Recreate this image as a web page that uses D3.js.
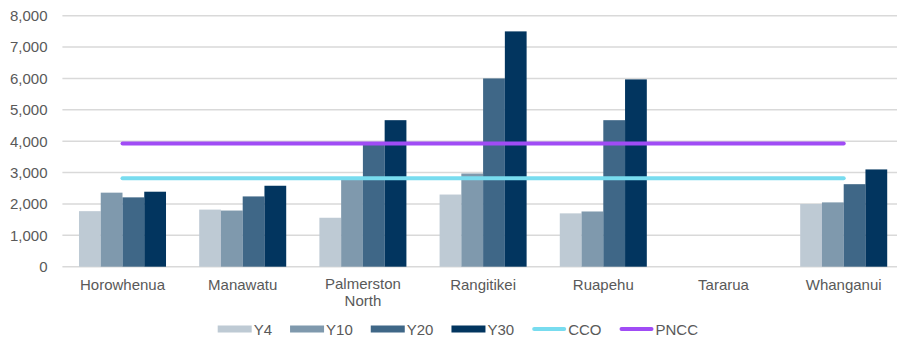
<!DOCTYPE html>
<html>
<head>
<meta charset="utf-8">
<script src="https://cdn.jsdelivr.net/npm/d3@7"></script>
<style>
  html, body { margin: 0; padding: 0; background: #fff; }
  svg { display: block; font-family: "Liberation Sans", Arial, sans-serif; }
</style>
</head>
<body>
<svg id="chart" width="897" height="345"></svg>
<script>
// Districts along the x axis
const categories = ["Horowhenua", "Manawatu", "Palmerston North", "Rangitikei", "Ruapehu", "Tararua", "Whanganui"];

// Bar series (null = no value)
const seriesNames = ["Y4", "Y10", "Y20", "Y30"];
const y4  = [1770, 1820, 1560, 2300, 1700, null, 2000];
const y10 = [2360, 1790, 2780, 2970, 1760, null, 2050];
const y20 = [2210, 2240, 3900, 6000, 4670, null, 2630];
const y30 = [2390, 2580, 4670, 7500, 5970, null, 3100];

// Flat reference lines
const cco  = [2820, 2820, 2820, 2820, 2820, 2820, 2820];
const pncc = [3930, 3930, 3930, 3930, 3930, 3930, 3930];

const yTicks = [0, 1000, 2000, 3000, 4000, 5000, 6000, 7000, 8000];

const barColors = ["#BECAD4", "#7F99AD", "#3F6787", "#02355F"];
const ccoColor = "#78DCEF";
const pnccColor = "#A04CF5";
const textColor = "#595959";
const fontSize = "15px";

const barData = [y4, y10, y20, y30];

const svg = d3.select("#chart");
const W = 897, H = 345;
const plotLeft = 62.4, plotRight = 903.8, plotTop = 15.7, plotBottom = 266.7;

const x0 = d3.scaleBand().domain(categories).range([plotLeft, plotRight])
  .paddingInner(0.276).paddingOuter(0.138);
const x1 = d3.scaleBand().domain(seriesNames).range([0, x0.bandwidth()]);
const y = d3.scaleLinear().domain([0, 8000]).range([plotBottom, plotTop]);

// Gridlines
svg.append("g").selectAll("line").data(yTicks).join("line")
  .attr("x1", plotLeft).attr("x2", W)
  .attr("y1", d => y(d)).attr("y2", d => y(d))
  .attr("stroke", "#D9D9D9").attr("stroke-width", 1.5);

// Y axis labels
const yAxis = d3.axisLeft(y).tickValues(yTicks).tickFormat(d3.format(",")).tickSize(0).tickPadding(0);
const gy = svg.append("g").attr("transform", `translate(${47.5},0)`).call(yAxis);
gy.select(".domain").remove();
gy.selectAll("text").attr("fill", textColor).style("font-size", fontSize)
  .attr("font-family", "'Liberation Sans', Arial, sans-serif");

// Bars
const groups = svg.append("g").selectAll("g").data(categories).join("g")
  .attr("transform", d => `translate(${x0(d)},0)`);
groups.selectAll("rect")
  .data((c, i) => seriesNames.map((s, k) => ({ s, k, v: barData[k][i] })).filter(d => d.v != null))
  .join("rect")
  .attr("x", d => x1(d.s))
  .attr("width", x1.bandwidth())
  .attr("y", d => y(d.v))
  .attr("height", d => y(0) - y(d.v))
  .attr("fill", d => barColors[d.k]);

// Reference lines
const cx = c => x0(c) + x0.bandwidth() / 2;
const lineGen = d3.line().x((d, i) => cx(categories[i])).y(d => y(d));
[[cco, ccoColor], [pncc, pnccColor]].forEach(([vals, col]) => {
  svg.append("path").datum(vals).attr("d", lineGen)
    .attr("fill", "none").attr("stroke", col).attr("stroke-width", 4)
    .attr("stroke-linecap", "round");
});

// Category labels (wrap two-word names)
const xl = svg.append("g");
categories.forEach(c => {
  const words = c.split(" ");
  const t = xl.append("text").attr("x", cx(c)).attr("y", words.length > 1 ? 288.5 : 290)
    .attr("text-anchor", "middle").attr("fill", textColor).style("font-size", fontSize);
  words.forEach((w, i) => {
    t.append("tspan").attr("x", cx(c)).attr("dy", i === 0 ? 0 : 17).text(w);
  });
});

// Legend
const legendItems = [
  { name: "Y4", color: barColors[0], type: "bar" },
  { name: "Y10", color: barColors[1], type: "bar" },
  { name: "Y20", color: barColors[2], type: "bar" },
  { name: "Y30", color: barColors[3], type: "bar" },
  { name: "CCO", color: ccoColor, type: "line" },
  { name: "PNCC", color: pnccColor, type: "line" }
];
const lg = svg.append("g");
let lx = 217.7;
const ly = 329;
legendItems.forEach(it => {
  if (it.type === "bar") {
    lg.append("rect").attr("x", lx).attr("y", ly - 3.5).attr("width", 34).attr("height", 7).attr("fill", it.color);
  } else {
    lg.append("line").attr("x1", lx + 2).attr("x2", lx + 32).attr("y1", ly).attr("y2", ly)
      .attr("stroke", it.color).attr("stroke-width", 4).attr("stroke-linecap", "round");
  }
  const t = lg.append("text").attr("x", lx + 36).attr("y", ly + 5.5)
    .attr("fill", textColor).style("font-size", fontSize).text(it.name);
  lx += 36 + t.node().getComputedTextLength() + 18;
});
</script>
</body>
</html>
